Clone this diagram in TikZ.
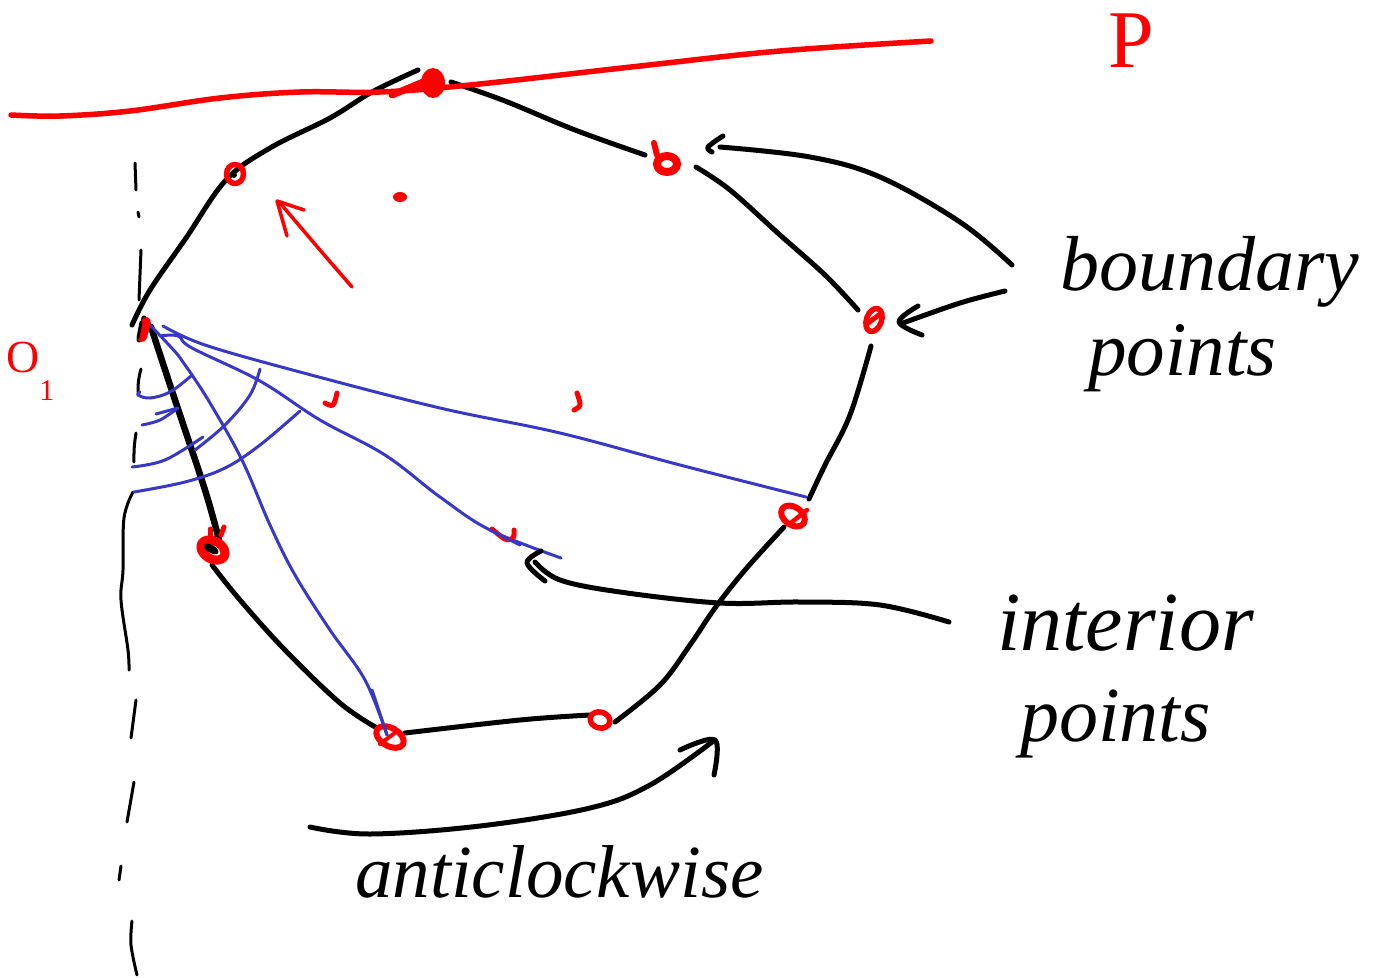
\documentclass[tikz,border=0pt]{standalone}
\usepackage{fontspec}
\setmainfont{Liberation Serif}
\definecolor{ink}{RGB}{0,0,0}
\definecolor{redpen}{RGB}{255,0,0}
\definecolor{bluepen}{RGB}{56,56,200}
\newcommand{\fsz}[1]{\fontsize{#1pt}{#1pt}\selectfont}
\tikzset{
  pen/.style={draw=ink,line width=5pt,line cap=round,line join=round},
  thinpen/.style={draw=ink,line width=3pt,line cap=round,line join=round},
  redline/.style={draw=redpen,line width=5.5pt,line cap=round,line join=round},
  bluel/.style={draw=bluepen,line width=3pt,line cap=round,line join=round},
  hand/.style={inner sep=0pt,text=ink,anchor=base west},
  redhand/.style={inner sep=0pt,text=redpen,anchor=base west},
}
\begin{document}
\begin{tikzpicture}[x=1pt,y=-1pt]
\useasboundingbox (0,0) rectangle (1380,977);
\fill[white] (0,0) rectangle (1380,977);
% dash-dot axis
\draw[thinpen] (135,163) -- (136,190);
\draw[thinpen] (138,212) -- (139,217);
\draw[thinpen] (141,250) -- (139,300);
\draw[thinpen] (141,369) to[bend right=8] (138,392);
\draw[thinpen] (136,433) to[bend right=5] (134,462);
\draw[thinpen] plot[smooth,tension=0.6] coordinates {(133,492) (124,518) (123,570) (121,600) (128,650) (129,670)};
\draw[thinpen] (136,700) -- (131,738);
\draw[thinpen] (134,782) -- (127,822);
\draw[thinpen] (121,866) -- (119,880);
\draw[thinpen] plot[smooth,tension=0.6] coordinates {(132,921) (131,945) (137,975)};
% polygon outline
\draw[pen] plot[smooth,tension=0.6] coordinates {(132,325) (150,290) (186,238) (226,180) (270,148) (330,118) (372,92) (418,70)};
\draw[pen] plot[smooth,tension=0.6] coordinates {(451,82) (505,101) (575,130) (645,155)};
\draw[pen] plot[smooth,tension=0.6] coordinates {(696,167) (730,190) (780,235) (825,275) (858,310)};
\draw[pen] plot[smooth,tension=0.6] coordinates {(871,346) (850,415) (825,465) (809,499)};
\draw[pen] plot[smooth,tension=0.6] coordinates {(784,527) (745,570) (715,608) (690,645) (660,685) (615,722)};
\draw[pen] plot[smooth,tension=0.6] coordinates {(590,715) (520,720) (405,733)};
\draw[pen] plot[smooth,tension=0.6] coordinates {(377,728) (340,703) (285,650) (240,600) (212,565)};
\draw[draw=ink,line width=6.5pt,line cap=round] plot[smooth,tension=0.6] coordinates {(151,327) (175,400) (205,490) (219,540)};
\draw[pen] (144,318) -- (139,340);
% blue construction lines
\draw[bluel] plot[smooth,tension=0.6] coordinates {(163,326) (205,345) (300,372) (440,408) (560,433) (680,465) (806,497)};
\draw[bluel] plot[smooth,tension=0.6] coordinates {(160,336) (178,336) (192,348) (260,381) (320,420) (385,455) (440,497) (490,530) (561,558)};
\draw[bluel] plot[smooth,tension=0.6] coordinates {(151,326) (178,355) (190,372) (210,403) (242,460) (270,525) (295,575) (330,630) (365,680) (387,735)};
\draw[bluel] plot[smooth,tension=0.6] coordinates {(140,392) (138,395) (150,398) (170,392) (191,376)};
\draw[bluel] plot[smooth,tension=0.6] coordinates {(142,425) (160,420) (178,408)};
\draw[bluel] (156,414) -- (178,408);
\draw[bluel] plot[smooth,tension=0.6] coordinates {(132,467) (165,460) (203,437)};
\draw[bluel] plot[smooth,tension=0.6] coordinates {(195,450) (225,425) (250,395) (260,369)};
\draw[bluel] plot[smooth,tension=0.6] coordinates {(134,492) (185,482) (225,468) (260,445) (300,411)};
% tangent line P
\draw[redline] plot[smooth,tension=0.6] coordinates {(11,115) (60,116) (130,111) (220,98) (300,92) (380,92) (470,85) (640,66) (780,51) (931,41)};
% blobs
\fill[redpen] (433,83) ellipse (12pt and 15pt);
\draw[redline,line width=7pt] (392,95) -- (428,80);
\fill[redpen] (400,197) ellipse (7pt and 5pt);
\draw[redline,line width=10pt] (146,322) -- (142,337);
\draw[pen,line width=3pt] (141,322) -- (138,338);
\draw[redline,line width=5.5pt] (235,174) ellipse (8.5pt and 9.5pt);
\fill[ink] (234,175) circle (3pt);
\draw[redline,line width=8pt] (667,164) ellipse (10pt and 8pt);
\draw[redline,line width=6pt] (654,143) -- (657,155);
\draw[redline,line width=5.5pt,rotate around={-20:(874,320)}] (874,320) ellipse (7.5pt and 12pt);
\draw[redline,line width=5pt] (867,324) -- (880,314);
\draw[redline,line width=6pt,rotate around={-35:(793,516)}] (793,516) ellipse (13pt and 9pt);
\draw[redline,line width=4.5pt] (792,522) -- (807,510);
\draw[redline,line width=9pt,rotate around={-30:(213,550)}] (213,550) ellipse (13pt and 9pt);
\fill[ink,rotate around={-30:(213,550)}] (211,550) ellipse (8pt and 4pt);
\draw[redline,line width=5pt] (210,529) -- (210,536);
\draw[redline,line width=5pt] (224,527) -- (221,535);
\draw[redline,line width=6pt,rotate around={-30:(390,737)}] (390,737) ellipse (15pt and 9pt);
\draw[redline,line width=4pt] (380,744) -- (396,732);
\draw[redline,line width=5.5pt,rotate around={-15:(600,720)}] (600,720) ellipse (10pt and 8pt);
\draw[redline,line width=5pt] plot[smooth,tension=0.6] coordinates {(492,529) (505,539) (513,538) (514,530)};
\draw[redline,line width=5pt] plot[smooth,tension=0.6] coordinates {(325,403) (333,405) (337,393)};
\draw[redline,line width=5pt] plot[smooth,tension=0.6] coordinates {(574,410) (580,405) (577,393)};
% red arrow
\draw[redline,line width=3.5pt] plot[smooth,tension=0.6] coordinates {(352,287) (320,250) (280,203)};
\draw[redline,line width=3.5pt] (304,210) -- (277,201) -- (287,236);
% re-stroke blue over the point and interior mark
\draw[bluel] (372,690) -- (387,735);
\draw[bluel] (490,530) -- (520,545);
% annotation arrows
\draw[pen] plot[smooth,tension=0.6] coordinates {(1012,265) (960,222) (880,177) (810,157) (720,147)};
\draw[pen] plot[smooth,tension=0.6] coordinates {(723,136) (708,147) (712,152)};
\draw[pen] plot[smooth,tension=0.6] coordinates {(1005,291) (960,303) (903,323)};
\draw[pen] plot[smooth,tension=0.6] coordinates {(918,306) (899,322) (922,335)};
\draw[pen] plot[smooth,tension=0.6] coordinates {(949,622) (880,605) (800,602) (720,603) (620,592) (560,580) (535,562)};
\draw[pen] plot[smooth,tension=0.6] coordinates {(541,551) (527,563) (545,581)};
\draw[pen] plot[smooth,tension=0.6] coordinates {(310,827) (370,834) (480,826) (590,808) (650,785) (712,742)};
\draw[pen] plot[smooth,tension=0.6] coordinates {(680,750) (715,740) (714,775)};
% labels
\node[hand,font=\fsz{78}\itshape] (bnd) at (1060,290) {boundary};
\node[hand,font=\fsz{77}\itshape] (pts) at (1088,375) {points};
\node[hand,font=\fsz{84}\itshape] (ins) at (997,650) {interior};
\node[hand,font=\fsz{78}\itshape] (pt2) at (1020,741) {points};
\node[hand,font=\fsz{75}\itshape] (acw) at (355,897) {anticlockwise};
\node[redhand,font=\fsz{82}] (P) at (1108,67) {P};
\node[redhand,font=\fsz{46}] (O) at (6,372) {O\raisebox{-28pt}{\fsz{30}1}};
\end{tikzpicture}
\end{document}
